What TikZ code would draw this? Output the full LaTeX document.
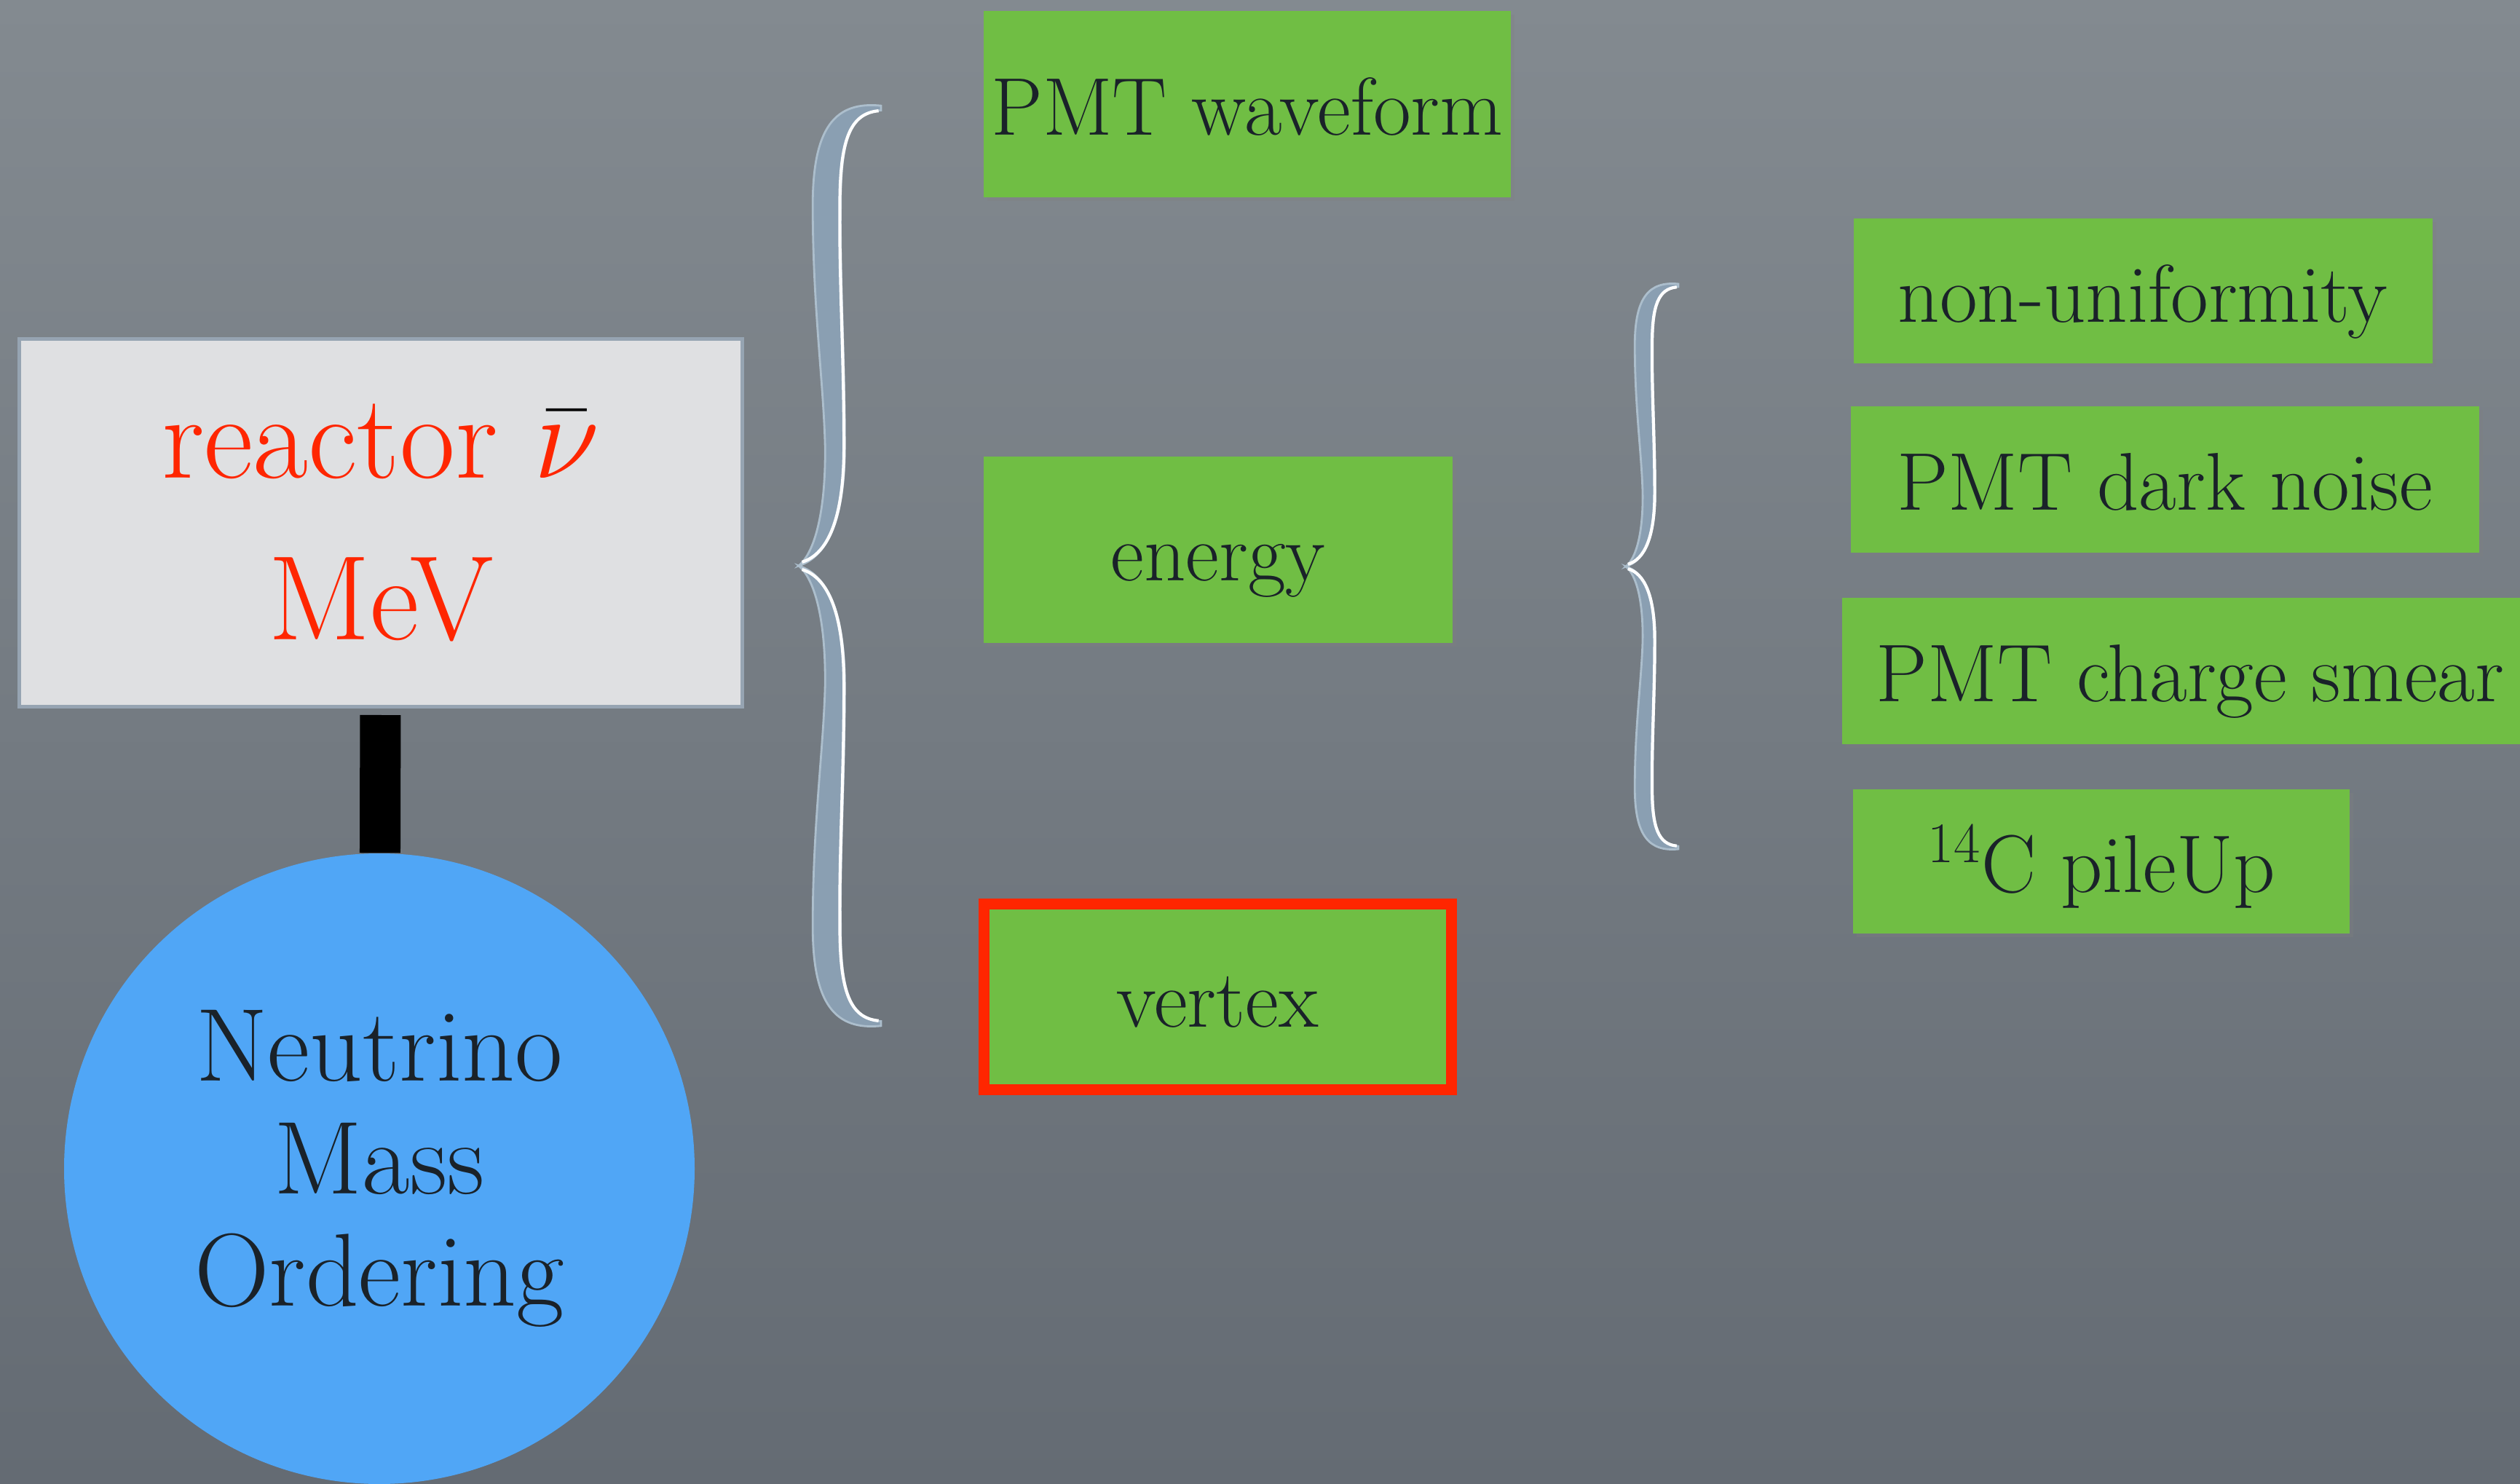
\RequirePackage{fix-cm}
\documentclass[tikz,border=0pt]{standalone}
\definecolor{slatetop}{RGB}{131,138,144}
\definecolor{slatebottom}{RGB}{100,107,115}
\definecolor{cuegreen}{RGB}{112,190,68}
\definecolor{inkdark}{RGB}{26,34,41}
\definecolor{hotred}{RGB}{255,38,0}
\definecolor{paper}{RGB}{223,224,226}
\definecolor{paperedge}{RGB}{150,164,178}
\definecolor{skyblue}{RGB}{80,166,246}
\definecolor{bracegrey}{RGB}{138,159,178}
\definecolor{braceedge}{RGB}{172,190,204}
\usepackage{fontspec}
\usepackage{amsmath}
\usepackage{tikz}
\usepackage{xcolor}
\usetikzlibrary{shadows}

\tikzset{
  cue/.style={fill=cuegreen, text=inkdark, inner sep=0pt,
    font=\fontsize{32}{38}\selectfont, text height=28pt, text depth=4pt,
    drop shadow={opacity=0.3, shadow xshift=0.05cm, shadow yshift=-0.05cm}},
  srcbox/.style={fill=paper, draw=paperedge, line width=0.05cm, text=hotred,
    minimum width=9.93cm, minimum height=5.05cm, align=center,
    font=\fontsize{47}{63}\selectfont},
  orb/.style={circle, fill=skyblue, text=inkdark, minimum size=8.66cm,
    inner sep=0pt, align=center, font=\fontsize{40.5}{44}\selectfont},
  stem/.style={draw=black, line width=0.56cm, shorten <=0.09cm},
  curlybrace/.pic={
    \foreach \s in {1,-1}{
      \begin{scope}[yscale=\s]
        \fill[bracegrey, draw=braceedge, line width=0.8pt]
          (1,0.995) .. controls (0.45,1.005) and (0.17,0.95) .. (0.17,0.78)
          .. controls (0.17,0.56) and (0.30,0.40) .. (0.32,0.26)
          .. controls (0.33,0.12) and (0.20,0.03) .. (0,0)
          .. controls (0.35,0.02) and (0.56,0.10) .. (0.56,0.26)
          .. controls (0.56,0.45) and (0.50,0.62) .. (0.51,0.78)
          .. controls (0.51,0.92) and (0.62,0.98) .. (1,0.985) -- cycle;
        \draw[white, line width=1.2pt]
          (0.04,0.008) .. controls (0.35,0.025) and (0.55,0.10) .. (0.55,0.26)
          .. controls (0.55,0.45) and (0.49,0.62) .. (0.50,0.78)
          .. controls (0.50,0.92) and (0.62,0.978) .. (0.97,0.984);
      \end{scope}
    }
  }
}

\begin{document}
\begin{tikzpicture}
                \useasboundingbox (0,0) rectangle (34.61,20.37);
                % Backdrop
                \shade[top color=slatetop, bottom color=slatebottom] (0,0) rectangle (34.61,20.37);

                % Braces
                \path (10.97,12.60) pic[xscale=1.13, yscale=6.35] {curlybrace};
                \path (22.33,12.59) pic[xscale=0.72, yscale=3.9] {curlybrace};

                % Source and goal
                \node[srcbox] (src) at (5.23,13.19) {reactor $\textcolor{black}{\bar{\textcolor{hotred}{\nu}}}$\\MeV};
                \node[orb] (nmo) at (5.21,4.32) {Neutrino\\Mass\\Ordering};
                \draw[stem] (src) -- (nmo);

                % Reconstruction
                \node[cue, minimum width=7.24cm, minimum height=2.56cm] (wave) at (17.13,18.94) {PMT waveform};
                \node[cue, minimum width=6.44cm, minimum height=2.56cm] (energy) at (16.73,12.82) {energy};
                \node[cue, draw=hotred, line width=0.15cm, minimum width=6.42cm, minimum height=2.55cm] (vertex) at (16.72,6.685) {vertex};

                % Energy effects
                \node[cue, minimum width=7.95cm, minimum height=1.99cm] (nonuni) at (29.43,16.37) {non-uniformity};
                \node[cue, minimum width=8.63cm, minimum height=2.01cm] (darknoise) at (29.73,13.785) {PMT dark noise};
                \node[cue, minimum width=9.56cm, minimum height=2.01cm] (smear) at (30.08,11.155) {PMT charge smear};
                \node[cue, minimum width=6.82cm, minimum height=1.98cm] (pileup) at (28.86,8.54) {\textsuperscript{14}C pileUp};
            \end{tikzpicture}
\end{document}
